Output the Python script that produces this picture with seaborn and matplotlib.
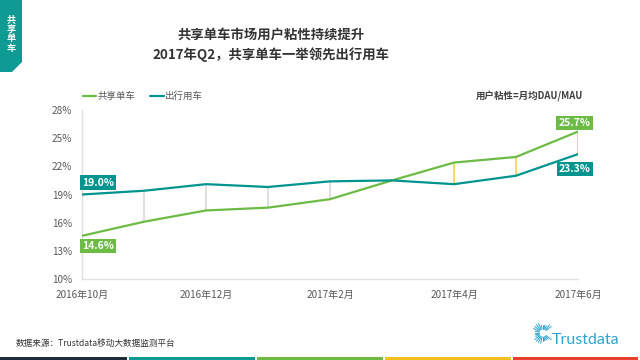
import numpy as np
import pandas as pd
import matplotlib
matplotlib.use("Agg")
import matplotlib.pyplot as plt
from matplotlib.patches import Polygon, Rectangle
from matplotlib.lines import Line2D
import seaborn as sns

# ---- data ----
months = ["2016年10月", "2016年11月", "2016年12月", "2017年1月", "2017年2月",
          "2017年3月", "2017年4月", "2017年5月", "2017年6月"]
bike = [14.6, 16.1, 17.3, 17.6, 18.5, 20.5, 22.4, 23.0, 25.7]     # 共享单车
travel = [19.0, 19.4, 20.1, 19.8, 20.4, 20.5, 20.1, 21.0, 23.3]   # 出行用车
series_names = ["共享单车", "出行用车"]
yticks = [10, 13, 16, 19, 22, 25, 28]
xtick_idx = [0, 2, 4, 6, 8]

GREEN = "#6cbb45"
TEAL = "#00948f"
GRAY_TXT = "#595959"

sns.set_theme(style="white")
plt.rcParams['font.family'] = ['Noto Sans CJK SC', 'DejaVu Sans']

df = pd.DataFrame({
    "idx": list(range(len(months))) * 2,
    "value": bike + travel,
    "series": [series_names[0]] * len(bike) + [series_names[1]] * len(travel),
})

fig = plt.figure(figsize=(6.4, 3.6), dpi=100)
ax = fig.add_axes([82 / 640, 1 - 279 / 360, (578 - 82) / 640, (279 - 110) / 360])

# connectors
xs = np.arange(len(months))
b = np.array(bike)
t = np.array(travel)
cols = ["#f2d45c" if bb > tt else "#dcdcdc" for bb, tt in zip(b, t)]
ax.vlines(xs, np.minimum(b, t), np.maximum(b, t), colors=cols, linewidth=1.3, zorder=1)

sns.lineplot(data=df, x="idx", y="value", hue="series", palette=[GREEN, TEAL],
             linewidth=1.6, ax=ax, legend=False, zorder=3)

ax.set_xlim(0, len(months) - 1)
ax.set_ylim(10, 28)
ax.set_yticks(yticks)
ax.set_yticklabels([f"{v}%" for v in yticks])
ax.set_xticks([xtick_idx[i] for i in range(len(xtick_idx))])
ax.set_xticklabels([months[i] for i in xtick_idx])
ax.set_xlabel("")
ax.set_ylabel("")
ax.tick_params(axis="both", length=0, labelsize=7.2, colors=GRAY_TXT)
ax.tick_params(axis="y", pad=7)
ax.tick_params(axis="x", pad=8)
for s in ["top", "right"]:
    ax.spines[s].set_visible(False)
for s in ["left", "bottom"]:
    ax.spines[s].set_color("#e0e0e0")
    ax.spines[s].set_linewidth(1.0)
ax.grid(False)

# value labels
def box(x, y, txt, color, dx, dy):
    ax.annotate(txt, (x, y), xytext=(dx * 0.72, dy * 0.72), textcoords="offset points",
                ha="center", va="center", fontsize=7.5, fontweight="bold", color="white",
                bbox=dict(boxstyle="square,pad=0.2", fc=color, ec="none"), zorder=5)

box(0, travel[0], f"{travel[0]:.1f}%", TEAL, 16, 12)
box(0, bike[0], f"{bike[0]:.1f}%", GREEN, 16, -10)
box(8, bike[-1], f"{bike[-1]:.1f}%", GREEN, -3.5, 9)
box(8, travel[-1], f"{travel[-1]:.1f}%", TEAL, -3, -14.5)

# legend
handles = [Line2D([0], [0], color=GREEN, lw=1.6), Line2D([0], [0], color=TEAL, lw=1.6)]
leg = fig.legend(handles, series_names, loc="center left", bbox_to_anchor=(83 / 640, 1 - 96 / 360),
                 ncol=2, frameon=False, fontsize=6.8, handlelength=1.4, handletextpad=0.1,
                 columnspacing=1.6, borderaxespad=0, borderpad=0)
for tx in leg.get_texts():
    tx.set_color(GRAY_TXT)

fig.text(583 / 640, 1 - 96 / 360, "用户粘性=月均DAU/MAU", ha="right", va="center",
         fontsize=6.8, fontweight="bold", color="#404040")

# titles
fig.text(271 / 640, 1 - 36 / 360, "共享单车市场用户粘性持续提升", ha="center", va="center",
         fontsize=9.6, fontweight="bold", color="#333333")
fig.text(271 / 640, 1 - 55 / 360, "2017年Q2，共享单车一举领先出行用车", ha="center", va="center",
         fontsize=9.6, fontweight="bold", color="#333333")

# top-left tag
W, H = 640, 360
tag = Polygon([(0, 1), (22 / W, 1), (22 / W, 1 - 62 / H), (12 / W, 1 - 72 / H), (0, 1 - 72 / H)],
              closed=True, transform=fig.transFigure, fc="#0f9a93", ec="none")
fig.patches.append(tag)
fig.text(11 / W, 1 - 34 / H, "共\n享\n单\n车", ha="center", va="center", fontsize=6.6,
         fontweight="bold", color="white", linespacing=1.05)

# source
fig.text(16 / W, 1 - 343 / H, "数据来源：Trustdata移动大数据监测平台", ha="left", va="center",
         fontsize=6.2, color="#333333")

# bottom color bar
bar_cols = ["#1d2b3a", "#0f9a93", "#6cbb45", "#f4c01e", "#e8402d"]
edges = [0, 129, 257, 385, 513, 640]
for i, c in enumerate(bar_cols):
    fig.patches.append(Rectangle((edges[i] / W, 0), (edges[i + 1] - edges[i] - 2) / W, 3.5 / H,
                                 transform=fig.transFigure, fc=c, ec="none"))

# logo
cx, cy = 543, 333
for ang in np.linspace(0, 2 * np.pi, 28, endpoint=False):
    if -0.5 < np.sin(ang) < 0.5 and np.cos(ang) > 0:
        continue
    r1, r2 = 4, 10.5 if (int(ang * 10) % 2 == 0) else 8
    fig.lines.append(Line2D([(cx + r1 * np.cos(ang)) / W, (cx + r2 * np.cos(ang)) / W],
                            [1 - (cy - r1 * np.sin(ang)) / H, 1 - (cy - r2 * np.sin(ang)) / H],
                            transform=fig.transFigure, color="#2fa3cf", lw=0.7))
fig.text(552 / W, 1 - 340 / H, "Trustdata", ha="left", va="center", fontsize=11.5,
         color="#2fa3cf", family=["Lato", "DejaVu Sans"])

fig.savefig("out.png", dpi=100)
